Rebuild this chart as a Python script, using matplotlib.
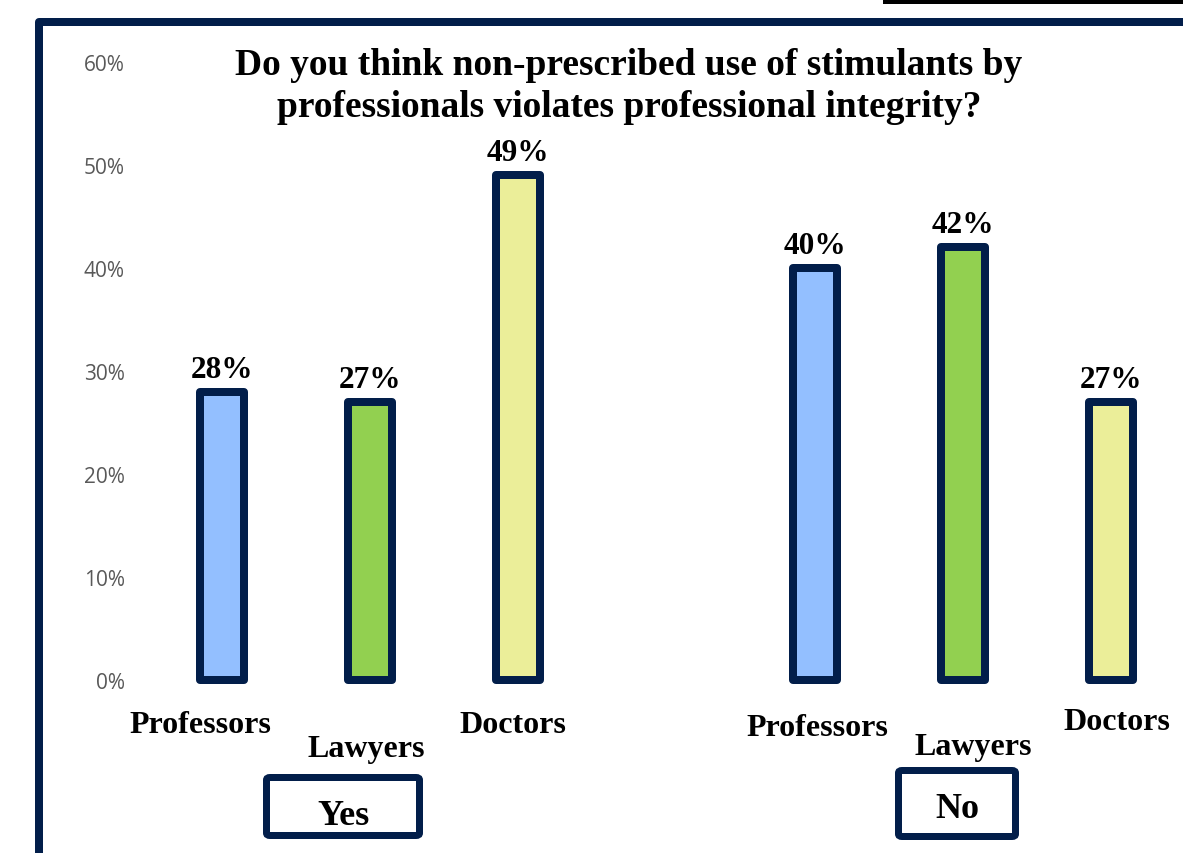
import matplotlib
matplotlib.use("Agg")
import matplotlib.pyplot as plt
from matplotlib.patches import FancyBboxPatch, Rectangle
from matplotlib.lines import Line2D

# ---- data ----
groups = ["Yes", "No"]
categories = ["Professors", "Lawyers", "Doctors"]
yes_values = [28, 27, 49]
no_values = [40, 42, 27]
colors = ["#93BFFF", "#92D050", "#EBEE99"]
yticks = [0, 10, 20, 30, 40, 50, 60]
ytick_labels = ["0%", "10%", "20%", "30%", "40%", "50%", "60%"]
title = "Do you think non-prescribed use of stimulants by\nprofessionals violates professional integrity?"

NAVY = "#021E4A"
W, H = 1183, 854
DPI = 100
fig = plt.figure(figsize=(W / DPI, H / DPI), dpi=DPI)
fig.patch.set_facecolor("white")

def fx(px):
    return px / W

def fy(py):
    return 1 - py / H

# axes placement (pixels)
ax_left, ax_right = 135, 1183
ax_top, ax_bottom = 63, 681
ax = fig.add_axes([fx(ax_left), fy(ax_bottom), fx(ax_right - ax_left), (ax_bottom - ax_top) / H])
ax.set_facecolor("none")

step = 148.17
xmin = -(222 - ax_left) / step
xmax = (ax_right - 222) / step
ax.set_xlim(xmin, xmax)
ax.set_ylim(0, 60)

positions = [[0, 1, 2], [4, 5, 6]]
values = [yes_values, no_values]
bar_w = 44 / step
lw_pt = 8 * 72 / DPI

for g, (pos, vals) in enumerate(zip(positions, values)):
    bars = ax.bar(pos, vals, width=bar_w, color=colors, edgecolor=NAVY,
                  linewidth=lw_pt, clip_on=False, zorder=3)
    for b in bars:
        b.set_joinstyle("round")
    for p, v in zip(pos, vals):
        ax.annotate(f"{v}%", xy=(p, v), xytext=(0, 15 * 72 / DPI), textcoords="offset points",
                    ha="center", va="baseline", fontsize=22.5, fontweight="bold",
                    family="Liberation Serif", color="black", annotation_clip=False)

# category labels (pixel offsets from bar center / zero line)
label_offsets = [
    [(-22, 52), (-4, 76), (-5, 52)],
    [(3, 55), (10, 74), (6, 49)],
]
for g, pos in enumerate(positions):
    for i, p in enumerate(pos):
        dx, dy = label_offsets[g][i]
        ax.annotate(categories[i], xy=(p, 0), xytext=(dx * 72 / DPI, -dy * 72 / DPI),
                    textcoords="offset points", ha="center", va="baseline",
                    fontsize=23, fontweight="bold", family="Liberation Serif",
                    annotation_clip=False)

ax.set_yticks(yticks)
ax.set_yticklabels(ytick_labels)
ax.tick_params(axis="y", length=0, pad=10 * 72 / DPI, labelsize=15, labelcolor="#595959")
for lab in ax.get_yticklabels():
    lab.set_family("Open Sans")
ax.set_xticks([])
for s in ax.spines.values():
    s.set_visible(False)

# title
fig.text(fx(629), fy(75), title.split("\n")[0], ha="center", va="baseline",
         fontsize=27, fontweight="bold", family="Liberation Serif")
fig.text(fx(629), fy(117), title.split("\n")[1], ha="center", va="baseline",
         fontsize=27, fontweight="bold", family="Liberation Serif")

# group boxes
box_specs = [(263, 775, 423, 840, 343, 825), (895, 768, 1019, 841, 957, 818)]
for (x0, y0, x1, y1, tx, ty), name in zip(box_specs, groups):
    bw = 7
    patch = FancyBboxPatch((fx(x0 + bw / 2), fy(y1 - bw / 2)),
                           fx(x1 - x0 - bw), (y1 - y0 - bw) / H,
                           boxstyle="round,pad=0,rounding_size=0.003",
                           transform=fig.transFigure, facecolor="white",
                           edgecolor=NAVY, linewidth=bw * 72 / DPI)
    fig.add_artist(patch)
    fig.text(fx(tx), fy(ty), name, ha="center", va="baseline", fontsize=26,
             fontweight="bold", family="Liberation Serif")

# outer frame (left and top edges)
frame = Line2D([fx(38.5), fx(38.5), fx(1190)], [fy(860), fy(23), fy(23)],
               transform=fig.transFigure, color=NAVY, linewidth=8 * 72 / DPI,
               solid_joinstyle="round")
fig.add_artist(frame)

# black bar top right
fig.add_artist(Rectangle((fx(883), fy(4.5)), fx(300), 4.5 / H, transform=fig.transFigure,
                         facecolor="black", edgecolor="none"))

fig.savefig("out.png", dpi=DPI)
